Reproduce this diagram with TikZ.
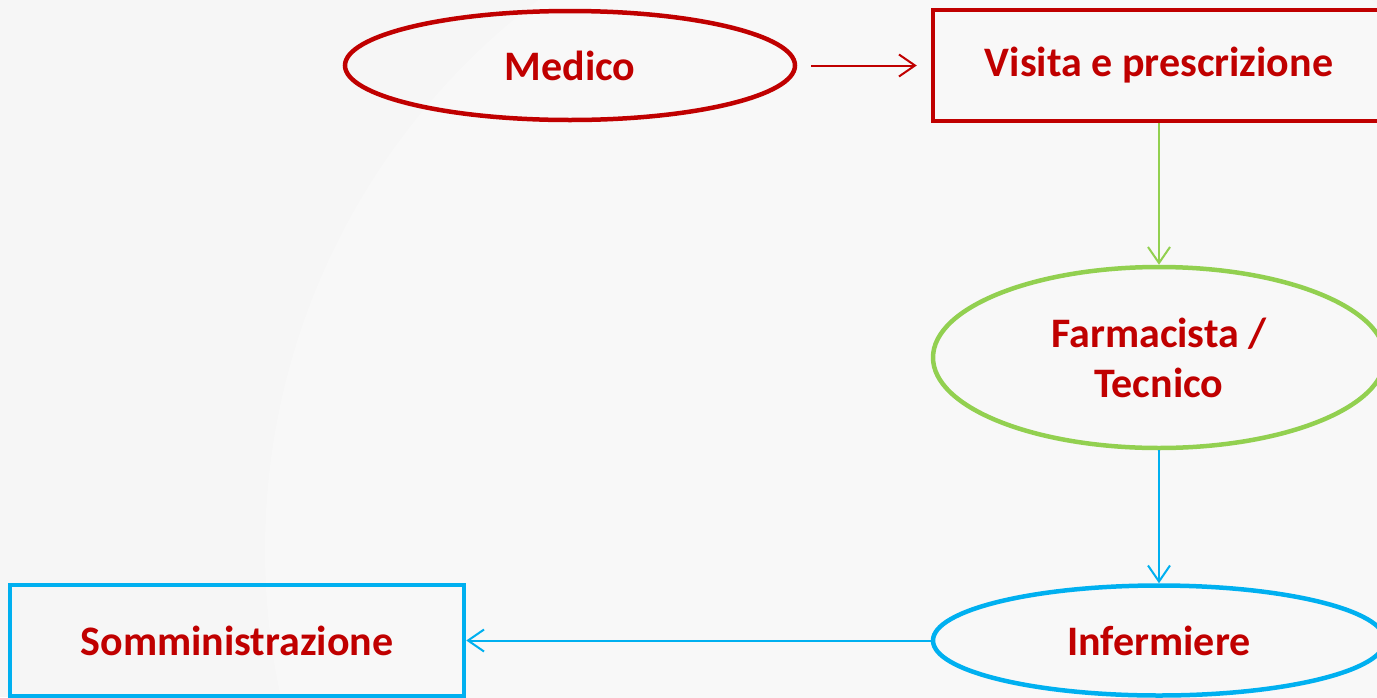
\documentclass[tikz,border=0pt]{standalone}
\usepackage{fontspec}
\setmainfont{Carlito}
\usetikzlibrary{shapes.geometric,arrows.meta}
\definecolor{dred}{HTML}{C00000}
\definecolor{lgreen}{HTML}{92D050}
\definecolor{lblue}{HTML}{00B0F0}
\definecolor{bg}{HTML}{F6F6F6}
\definecolor{bgc}{HTML}{F8F8F8}
\tikzset{
  lbl/.style={text=dred,font=\bfseries\fontsize{42}{50}\selectfont,align=center,inner sep=0pt},
  ell/.style={lbl,ellipse,draw,line width=4.5pt},
  box/.style={lbl,rectangle,draw,line width=4.5pt},
  conn/.style={line width=2pt,-{Straight Barb[length=16pt,width=22pt,line width=2pt]}},
}
\begin{document}
\begin{tikzpicture}[x=1pt,y=-1pt]
\useasboundingbox (0,0) rectangle (1377,697);
\fill[bg] (0,0) rectangle (1377,697);
\begin{scope}
\clip (0,0) rectangle (1377,697);
\fill[bgc] (955,550) circle (690);
\node[ell,draw=dred,minimum width=450pt,minimum height=109pt] (medico) at (570,65.5) {Medico};
\node[box,draw=dred,minimum width=452pt,minimum height=111pt] (visita) at (1159,65.5) {Visita e prescrizione};
\node[ell,draw=lgreen,minimum width=452pt,minimum height=181pt] (farm) at (1159,357.5) {Farmacista /\\Tecnico};
\node[ell,draw=lblue,minimum width=452pt,minimum height=110pt] (inf) at (1159,640.5) {Infermiere};
\node[box,draw=lblue,minimum width=454pt,minimum height=111pt] (somm) at (237,640.5) {Somministrazione};
\draw[conn,dred,shorten <=14pt,shorten >=14pt] (medico) -- (visita);
\draw[conn,lgreen] (visita) -- (farm);
\draw[conn,lblue] (farm) -- (inf);
\draw[conn,lblue] (inf) -- (somm);
\end{scope}
\end{tikzpicture}
\end{document}
